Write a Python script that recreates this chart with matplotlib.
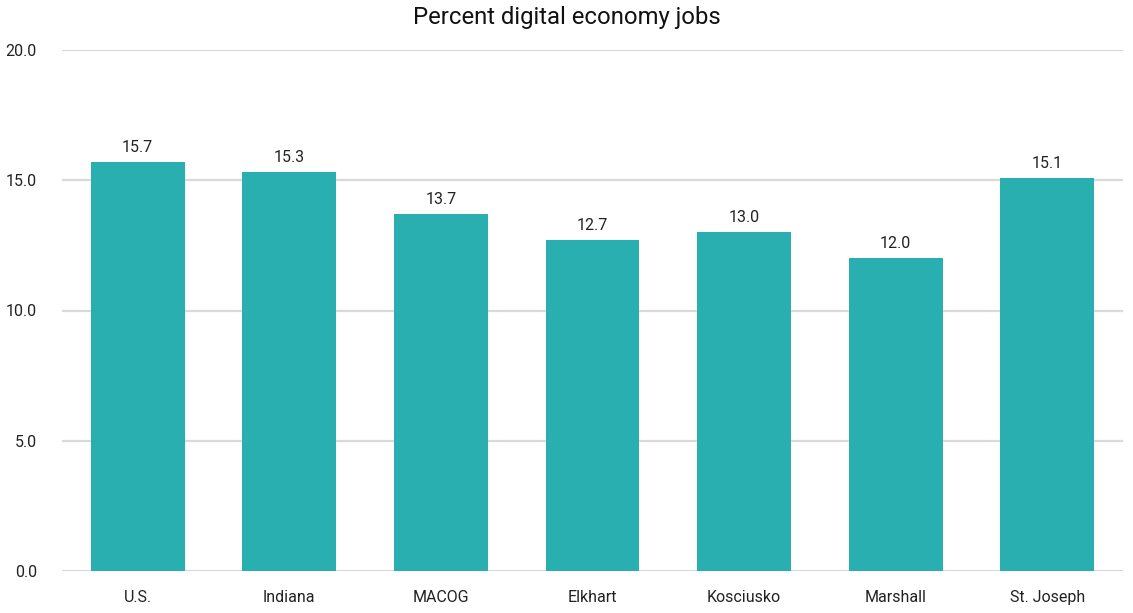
import numpy as np
import matplotlib.pyplot as plt

regions = ["U.S.", "Indiana", "MACOG", "Elkhart", "Kosciusko", "Marshall", "St. Joseph"]
pct_digital = [15.7, 15.3, 13.7, 12.7, 13.0, 12.0, 15.1]
yticks = [0, 5, 10, 15, 20]

plt.rcParams['font.family'] = ['Roboto', 'DejaVu Sans']

fig = plt.figure(figsize=(11.33, 6.13), dpi=100)
ax = fig.add_axes([62/1133, 42/613, 1061/1133, 521/613])

x = np.arange(len(regions))
bars = ax.bar(x, pct_digital, width=0.62, color="#2AAFB0", zorder=3)
for b, v in zip(bars, pct_digital):
    ax.annotate("%.1f" % v, (b.get_x() + b.get_width()/2, v), xytext=(0, 5),
                textcoords="offset points", ha="center", va="bottom",
                fontsize=11.5, color="#222222")

ax.set_xlim(-0.5, len(regions) - 0.5)
ax.set_ylim(0, 20)
ax.set_yticks(yticks)
ax.set_yticklabels(["%.1f" % t for t in yticks], fontsize=11.5, color="#222222")
ax.set_xticks(x)
ax.set_xticklabels(regions, fontsize=11.5, color="#222222")
ax.tick_params(length=0)
ax.tick_params(axis="y", pad=18)
ax.tick_params(axis="x", pad=14)
ax.grid(axis="y", color="#d9d9d9", linewidth=1.6, zorder=0)
for s in ax.spines.values():
    s.set_visible(False)

fig.suptitle("Percent digital economy jobs", y=0.99, fontsize=17.2, color="#111111")

fig.savefig("out.png", dpi=100)
